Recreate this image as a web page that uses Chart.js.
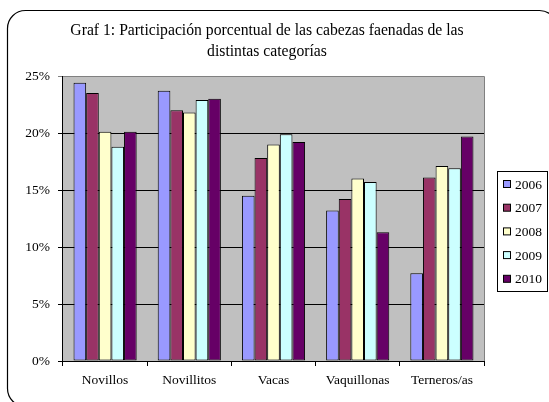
<!DOCTYPE html>
<html>
<head>
<meta charset="utf-8">
<script src="https://cdn.jsdelivr.net/npm/chart.js@4"></script>
<style>
  html, body { margin: 0; padding: 0; background: #fff; }
  #wrap { width: 549px; height: 402px; position: relative; }
</style>
</head>
<body>
<div id="wrap"><canvas id="grafico" width="549" height="402"></canvas></div>
<script>
const categorias = ['Novillos', 'Novillitos', 'Vacas', 'Vaquillonas', 'Terneros/as'];
const anios = ['2006', '2007', '2008', '2009', '2010'];
const v2006 = [24.4, 23.7, 14.5, 13.2, 7.7];
const v2007 = [23.5, 22.0, 17.8, 14.2, 16.1];
const v2008 = [20.1, 21.8, 19.0, 16.0, 17.1];
const v2009 = [18.8, 22.9, 19.9, 15.7, 16.9];
const v2010 = [20.1, 23.0, 19.2, 11.3, 19.7];
const yTicks = [0, 5, 10, 15, 20, 25];
const tituloLineas = ['Graf 1: Participación porcentual de las cabezas faenadas de las', 'distintas categorías'];

const colores = ['#9999FF', '#993366', '#FFFFCC', '#CCFFFF', '#660066'];
const serie = [v2006, v2007, v2008, v2009, v2010];
const FUENTE = '"Liberation Serif", "Times New Roman", serif';

const marco = {
  id: 'marco',
  beforeDraw(chart) {
    const { ctx, chartArea: a } = chart;
    ctx.save();
    // borde redondeado exterior (sale del lienzo por abajo y a la derecha)
    ctx.beginPath();
    ctx.roundRect(7.5, 10.5, 550, 396, 18);
    ctx.strokeStyle = '#000';
    ctx.lineWidth = 1.2;
    ctx.stroke();
    // fondo del area de trazado
    ctx.fillStyle = '#C0C0C0';
    ctx.fillRect(a.left, a.top, a.right - a.left, a.bottom - a.top);
    ctx.restore();
  },
  afterDatasetsDraw(chart) {
    const { ctx, chartArea: a } = chart;
    ctx.save();
    ctx.strokeStyle = '#808080';
    ctx.lineWidth = 1;
    ctx.beginPath();
    ctx.moveTo(a.left, a.top + 0.5);
    ctx.lineTo(a.right + 0.5, a.top + 0.5);
    ctx.lineTo(a.right + 0.5, a.bottom);
    ctx.stroke();
    ctx.strokeStyle = '#000';
    ctx.beginPath();
    ctx.moveTo(a.left - 0.5, a.top);
    ctx.lineTo(a.left - 0.5, a.bottom + 0.5);
    ctx.lineTo(a.right + 0.5, a.bottom + 0.5);
    ctx.stroke();

    // titulo
    ctx.fillStyle = '#000';
    ctx.font = '15.7px ' + FUENTE;
    ctx.textAlign = 'center';
    ctx.textBaseline = 'middle';
    ctx.fillText(tituloLineas[0], 267, 31);
    ctx.fillText(tituloLineas[1], 267, 52);

    // leyenda
    ctx.strokeStyle = '#000';
    ctx.strokeRect(497.5, 171.5, 50, 120);
    ctx.font = '13.5px ' + FUENTE;
    ctx.textAlign = 'left';
    anios.forEach((anio, i) => {
      const y = 184 + i * 23.7;
      ctx.fillStyle = colores[i];
      ctx.fillRect(503, y - 3.5, 7, 7);
      ctx.strokeRect(503.5, y - 3.5, 7, 7);
      ctx.fillStyle = '#000';
      ctx.fillText(anio, 515, y + 1);
    });
    ctx.restore();
  }
};

new Chart(document.getElementById('grafico'), {
  type: 'bar',
  data: {
    labels: categorias,
    datasets: anios.map((anio, i) => ({
      label: anio,
      data: serie[i],
      backgroundColor: colores[i],
      borderColor: '#000',
      borderWidth: 1,
      borderSkipped: false,
      categoryPercentage: 0.75,
      barPercentage: 1.0
    }))
  },
  options: {
    responsive: false,
    animation: false,
    devicePixelRatio: 1,
    layout: { padding: { top: 76, right: 65, left: 0, bottom: 0 } },
    plugins: { legend: { display: false }, title: { display: false }, tooltip: { enabled: false } },
    scales: {
      x: {
        afterFit: s => { s.height = 41; },
        grid: { offset: true, drawOnChartArea: false, color: '#000', tickLength: 5 },
        border: { display: false },
        ticks: { color: '#000', font: { family: FUENTE, size: 13.5 }, padding: 6, maxRotation: 0 }
      },
      y: {
        min: 0,
        max: 25,
        afterFit: s => { s.width = 63; },
        afterBuildTicks: s => { s.ticks = yTicks.map(v => ({ value: v })); },
        grid: {
          color: c => (c.tick && c.tick.value === 25 ? '#808080' : '#000'),
          tickLength: 5
        },
        border: { display: false },
        ticks: {
          color: '#000',
          font: { family: FUENTE, size: 13.5 },
          padding: 8,
          callback: v => v + '%'
        }
      }
    }
  },
  plugins: [marco]
});
</script>
</body>
</html>
